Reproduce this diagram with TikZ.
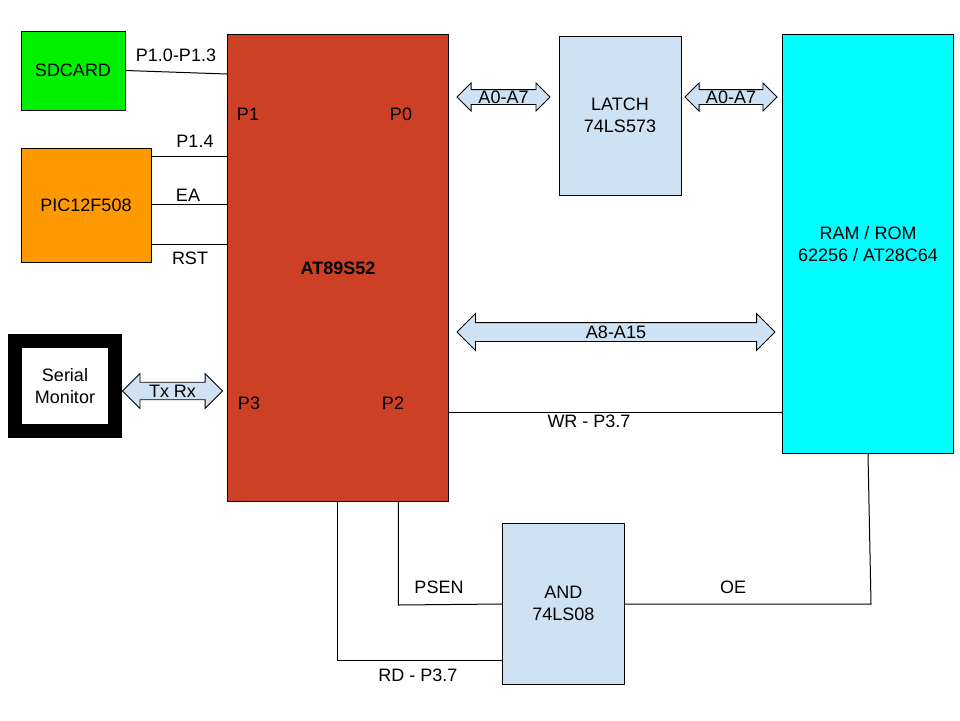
\documentclass[tikz,border=0pt]{standalone}
\usepackage{fontspec}
\setmainfont{Liberation Sans}
\usetikzlibrary{shapes.arrows,calc}
\definecolor{clrsd}{RGB}{0,240,0}
\definecolor{clrpic}{RGB}{255,153,0}
\definecolor{clrmcu}{RGB}{204,65,37}
\definecolor{clrchip}{RGB}{207,226,243}
\definecolor{clrmem}{RGB}{0,255,255}

\begin{document}
\begin{tikzpicture}[x=1pt, y=-1pt, font=\fontsize{18}{22}\selectfont,
    block/.style={draw, line width=1pt, inner sep=0pt, align=center},
    bus/.style 2 args={double arrow, draw, fill=clrchip, line width=0.8pt,
        inner sep=#1, double arrow head extend=#2},
    wire/.style={line width=1pt},
    lbl/.style={inner sep=0pt}]
    \useasboundingbox (0,0) rectangle (960,720);

    % blocks
    \node[block, fill=clrsd, minimum width=104, minimum height=79] (sdcard) at (73,70.5) {SDCARD};
    \node[block, fill=clrpic, minimum width=130, minimum height=114] (pic) at (86,205) {PIC12F508};
    \node[block, fill=clrmcu, minimum width=221, minimum height=467] (mcu) at (338,268) {\textbf{AT89S52}};
    \node[block, fill=clrchip, minimum width=122, minimum height=159] (latch) at (620,115.5) {LATCH\\74LS573};
    \node[block, fill=clrmem, minimum width=171, minimum height=419] (mem) at (868,244) {RAM / ROM\\62256 / AT28C64};
    \node[block, fill=clrchip, minimum width=122, minimum height=161] (andgate) at (563.3,603.7) {AND\\74LS08};
    \node[draw, line width=14pt, fill=white, minimum width=100, minimum height=90, inner sep=0pt, align=center] (serial) at (65,386) {Serial\\Monitor};

    % port names
    \node[lbl] (p1) at (248,114) {P1};
    \node[lbl] (p0) at (401,114) {P0};
    \node[lbl] (p3) at (249,403) {P3};
    \node[lbl] (p2) at (393,403) {P2};

    % buses
    \node[bus={7pt}{6.7pt}, minimum height=93] (buslo) at (503.5,97) {};
    \node[lbl] (buslotxt) at (buslo) {A0-A7};
    \node[bus={7pt}{6.7pt}, minimum height=92] (buslat) at (731,97) {};
    \node[lbl] (buslattxt) at (buslat) {A0-A7};
    \node[bus={9pt}{9pt}, minimum height=318] (bushi) at (616,332) {};
    \node[lbl] (bushitxt) at (bushi) {A8-A15};
    \node[bus={8.3pt}{8.7pt}, minimum height=100] (busser) at (172.5,391) {};
    \node[lbl] (bussertxt) at (busser) {Tx Rx};

    % wires
    \draw[wire] (sdcard.east) -- (mcu.west |- 0,74);
    \node[lbl] (sdtxt) at (176,55) {P1.0-P1.3};
    \foreach \y/\txt/\ty/\tx [count=\i] in {156/P1.4/141/195, 204/EA/195/188, 244/RST/258/190} {
        \draw[wire] (pic.east |- 0,\y) -- (mcu.west |- 0,\y);
        \node[lbl] (pictxt\i) at (\tx,\ty) {\txt};
    }
    \draw[wire] (mcu.east |- 0,412) -- (mem.west |- 0,412);
    \node[lbl] (wrtxt) at (589,421) {WR - P3.7};
    \draw[wire] (mcu.south -| 398.3,0) -- (398.3,605) -- (andgate.west |- 0,604);
    \node[lbl] (psentxt) at (439,587) {PSEN};
    \draw[wire] (mcu.south -| 337.3,0) -- (337.3,660.5) -- (andgate.west |- 0,660.5);
    \node[lbl] (rdtxt) at (418,675) {RD - P3.7};
    \draw[wire] (andgate.east |- 0,604) -- (871,604) -- (mem.south);
    \node[lbl] (oetxt) at (733,587) {OE};

\end{tikzpicture}
\end{document}
